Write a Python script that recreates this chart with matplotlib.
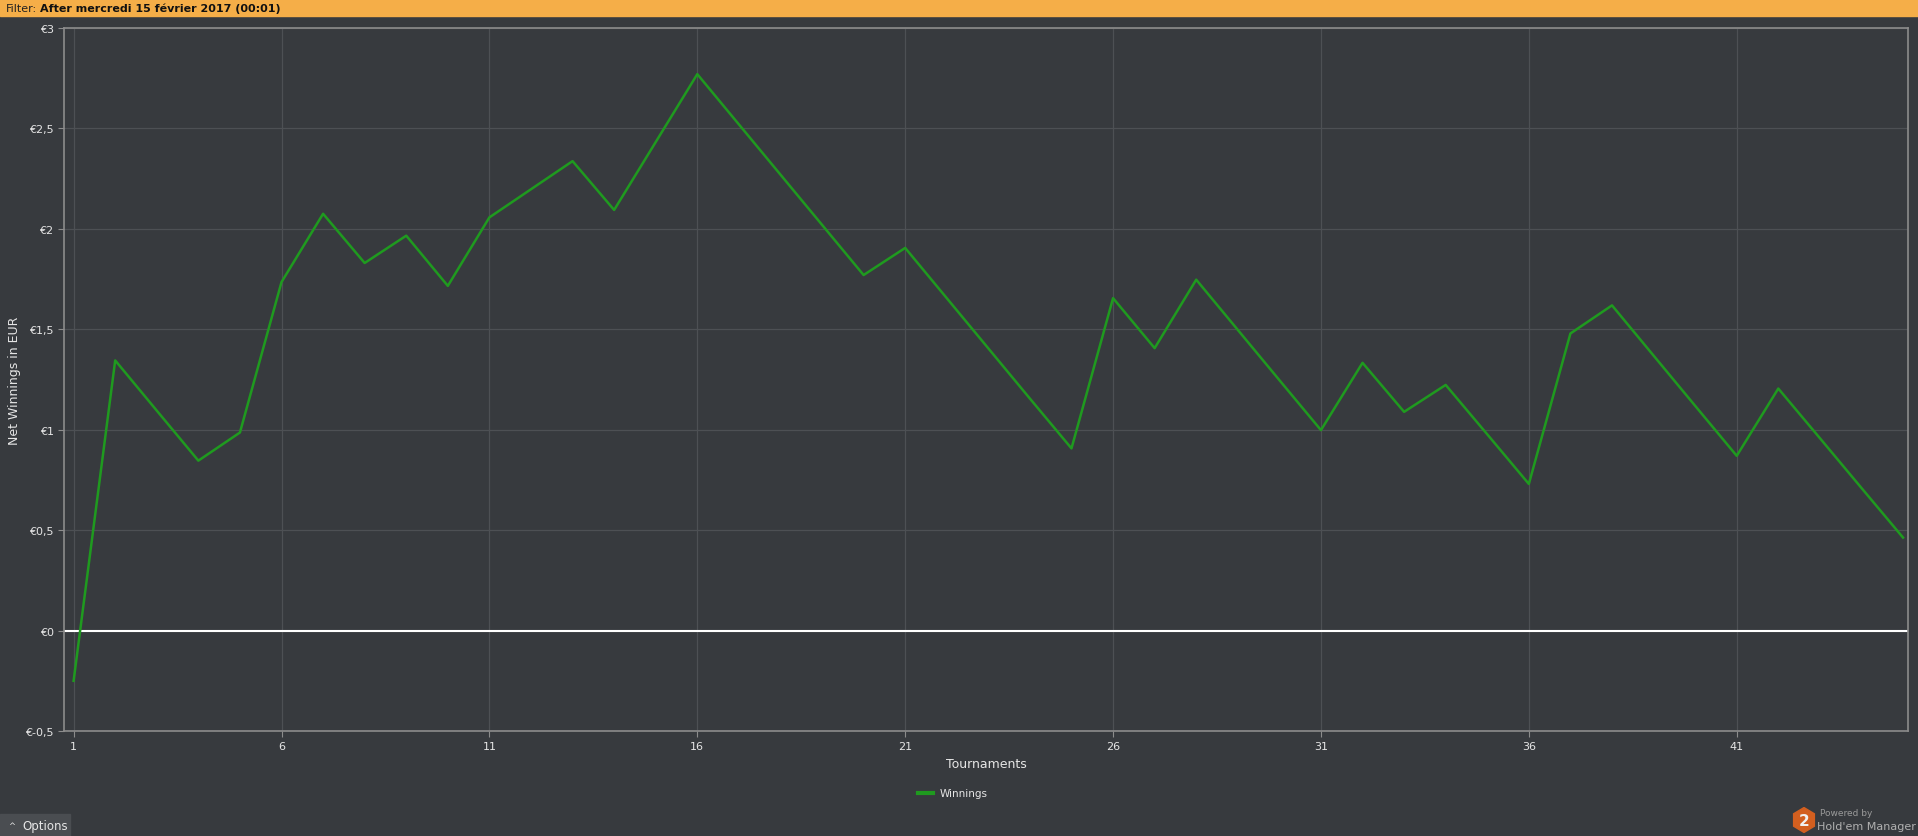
import matplotlib
matplotlib.use("Agg")
import matplotlib.pyplot as plt
import matplotlib.patches as patches
from matplotlib.ticker import FixedLocator, FuncFormatter

# cumulative net winnings per tournament
tournaments = list(range(1, 46))
winnings = [-0.25, 1.345, 1.095, 0.846, 0.986, 1.735, 2.075, 1.83, 1.966, 1.716,
            2.057, 2.197, 2.337, 2.094, 2.432, 2.77, 2.52, 2.27, 2.02, 1.77,
            1.905, 1.655, 1.405, 1.155, 0.907, 1.655, 1.406, 1.747, 1.497, 1.247,
            0.998, 1.333, 1.089, 1.223, 0.977, 0.73, 1.479, 1.619, 1.369, 1.119,
            0.87, 1.205, 0.958, 0.71, 0.463]
x_ticks = [1, 6, 11, 16, 21, 26, 31, 36, 41]
y_ticks = [-0.5, 0, 0.5, 1, 1.5, 2, 2.5, 3]

BG = "#373a3e"
GRID = "#4d5054"
SPINE = "#8c8c8c"
GREEN = "#1f9a1f"
TXT = "#e6e6e6"


def euro(v, _):
  if v == int(v):
    return "€%d" % v
  return ("€%.1f" % v).replace(".", ",")


def main():
  fig = plt.figure(figsize=(19.18, 8.37), dpi=100, facecolor=BG)
  ax = fig.add_axes([0.0334, 0.1254, 0.9614, 0.84])
  ax.set_facecolor(BG)

  ax.plot(tournaments, winnings, color=GREEN, lw=1.8, label="Winnings", zorder=3)
  ax.axhline(0, color="white", lw=1.5, zorder=2)

  ax.set_xlim(0.77, 45.12)
  ax.set_ylim(-0.5, 3)
  ax.xaxis.set_major_locator(FixedLocator(x_ticks))
  ax.yaxis.set_major_locator(FixedLocator(y_ticks))
  ax.yaxis.set_major_formatter(FuncFormatter(euro))
  ax.grid(True, color=GRID, lw=0.9)
  ax.set_axisbelow(True)
  for s in ax.spines.values():
    s.set_color(SPINE)
    s.set_linewidth(1.2)
  ax.tick_params(colors=SPINE, labelcolor=TXT, labelsize=8, length=4, width=0.8)

  ax.set_xlabel("Tournaments", color=TXT, fontsize=9, labelpad=4)
  ax.set_ylabel("Net Winnings in EUR", color=TXT, fontsize=9)
  ax.yaxis.set_label_coords(-0.0235, 0.5)

  leg = ax.legend(loc="upper center", bbox_to_anchor=(0.482, -0.068), frameon=False,
                  fontsize=7.5, handlelength=1.4, handletextpad=0.6)
  for t in leg.get_texts():
    t.set_color(TXT)
  for h in leg.get_lines():
    h.set_linewidth(3)

  # orange filter bar on top
  fig.patches.append(patches.Rectangle((0, 1 - 17 / 837), 1, 17 / 837,
                                       transform=fig.transFigure, color="#f5ae48",
                                       zorder=0))
  fig.text(0.0031, 1 - 8.5 / 837, "Filter:", color="#222222", fontsize=8,
           va="center", ha="left")
  fig.text(0.0206, 1 - 8.5 / 837, "After mercredi 15 février 2017 (00:01)",
           color="#111111", fontsize=8, fontweight="bold", va="center", ha="left")

  # options button bottom left
  fig.patches.append(patches.Rectangle((0, 0), 70 / 1918, 22 / 837,
                                       transform=fig.transFigure, color="#4a4d51"))
  fig.text(8 / 1918, 10 / 837, "^", color=TXT, fontsize=6, va="center")
  fig.text(22 / 1918, 10 / 837, "Options", color=TXT, fontsize=8.5, va="center")

  # powered by logo
  lax = fig.add_axes([1792 / 1918, 3 / 837, 24 / 1918, 26 / 837])
  lax.set_axis_off()
  lax.set_xlim(-1.1, 1.1)
  lax.set_ylim(-1.15, 1.15)
  lax.add_patch(patches.RegularPolygon((0, 0), 6, radius=1.1, orientation=0,
                                       color="#d35f1f"))
  lax.text(0, -0.05, "2", color="#f0f0f0", fontsize=11, fontweight="bold",
           ha="center", va="center")
  fig.text(1820 / 1918, 23 / 837, "Powered by", color="#9a9a9a", fontsize=6.5,
           va="center")
  fig.text(1916 / 1918, 10 / 837, "Hold'em Manager", color="#b0b0b0", fontsize=8,
           va="center", ha="right")

  fig.savefig("out.png", dpi=100, facecolor=BG)


if __name__ == '__main__':
  main()
